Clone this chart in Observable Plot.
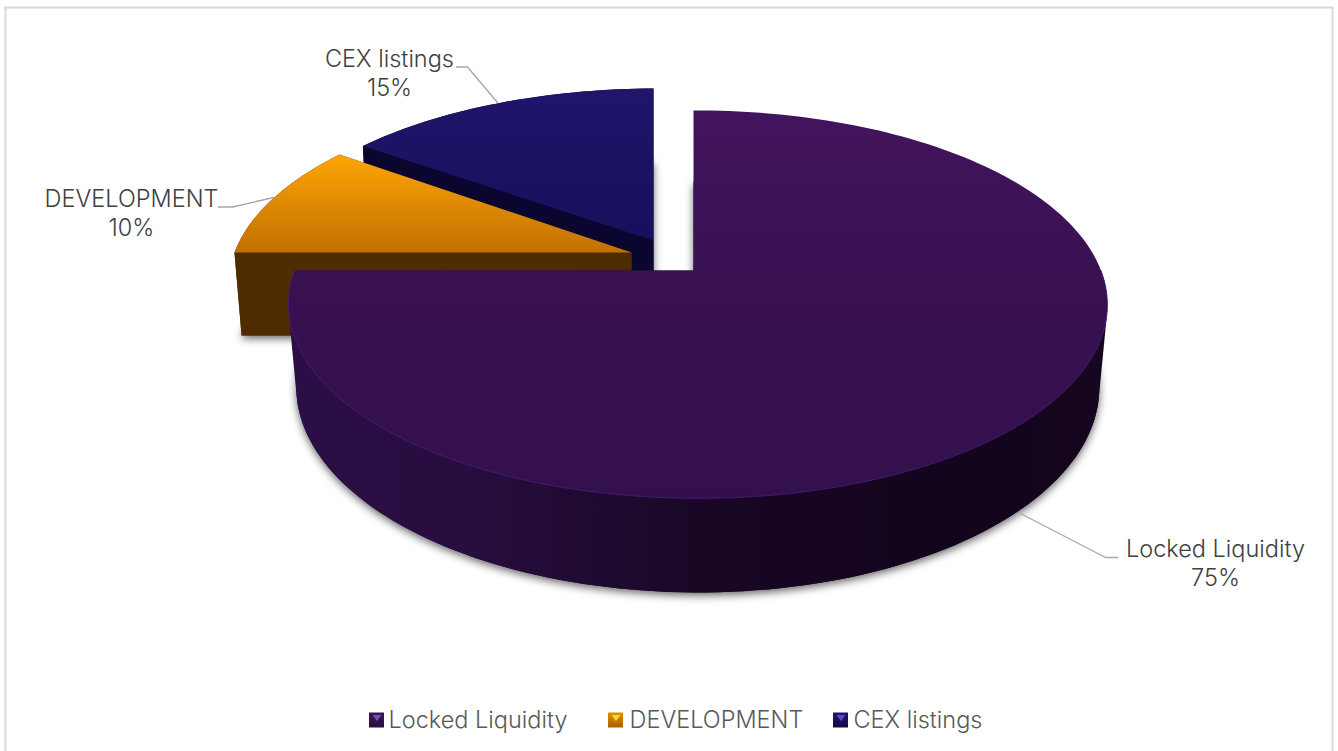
<!DOCTYPE html>
<html>
<head>
<meta charset="utf-8">
<script src="https://cdn.jsdelivr.net/npm/d3@7"></script>
<script src="https://cdn.jsdelivr.net/npm/@observablehq/plot@0.6"></script>
<style>html,body{margin:0;padding:0;background:#fff;overflow:hidden}svg{display:block}</style>
</head>
<body>
<div id="chart"></div>
<script>
// ---- data ----
const categories = ["Locked Liquidity", "DEVELOPMENT", "CEX listings"];
const shares = [75, 10, 15];

// ---- view settings (separate from the data) ----
const W = 1338, H = 751;
const topPlane = {y0: 270, A: 403.2, B: 188, k: 0.175};
const basePlane = {y0: 353, A: 396, B: 199.6, k: 0.1646};
const X0 = 693, M = -0.0105;
const explode = [
  {dx: 0, dy: 0, sx: 1, sy: 1},
  {dx: -62, dy: -18, sx: 0.995, sy: 0.985},
  {dx: -40, dy: -30, sx: 0.99, sy: 0.95}
];
const gradients = {
  top0: [["0%", "#42145e"], ["50%", "#38104f"], ["100%", "#33104d"]],
  top1: [["0%", "#ffa506"], ["100%", "#c07000"]],
  top2: [["0%", "#1f156b"], ["100%", "#18105c"]],
  wall0: [["0%", "#2b0e45"], ["20%", "#290d40"], ["38%", "#1e0a30"], ["50%", "#190725"], ["80%", "#13051e"], ["100%", "#16061f"]],
  sw0: [["0%", "#3c1458"], ["100%", "#2a0c40"]],
  sw1: [["0%", "#e89000"], ["100%", "#a86000"]],
  sw2: [["0%", "#1f156b"], ["100%", "#120a48"]]
};
const wallColors = ["url(#wall0)", "#4f2b00", "#0a0630"];
const triColors = ["#7d50a8", "#ffd24a", "#5a4cc0"];
const shadow = "drop-shadow(0px 3px 4px rgba(0,0,0,0.6))";
const leaders = [
  [[1020, 513], [1105, 557], [1117, 557]],
  [[273, 197], [232, 206.5], [218, 206.5]],
  [[497, 102], [467, 66.5], [456, 66.5]]
];
const labelAt = [[1215, 549], [131, 199], [389, 59]];
const legendSwatchX = [369, 608, 833];
const legendTextX = [388, 629, 853];
const legendY = 720;
const SW = 15;
const textColor = "#404040";
const font = "Inter, 'Open Sans', sans-serif";

// ---- geometry derived from the shares ----
const arcs = d3.pie().sort(null).value(d => d)(shares);
const deg = Math.PI / 180;
function project(plane, i, theta, r = 1) {
  const e = explode[i];
  const u = r * Math.sin(theta), v = r * Math.cos(theta);
  const w = 1 + plane.k * v + M * u;
  return {
    x: X0 + e.dx + e.sx * plane.A * u / w,
    y: plane.y0 + e.dy - e.sy * plane.B * v / w
  };
}
function arcPts(plane, i, a0, a1) {
  const n = Math.max(2, Math.ceil((a1 - a0) / (1.5 * deg)));
  return d3.range(n + 1).map(j => project(plane, i, a0 + (a1 - a0) * j / n));
}
function sector(plane, i, a0, a1) {
  return [project(plane, i, 0, 0), ...arcPts(plane, i, a0, a1)];
}
const poly = (pts, fill, extra = {}) =>
  Plot.line(pts, {x: "x", y: "y", fill, stroke: "none", curve: "linear", ...extra});
function hull(pts) {
  return d3.polygonHull(pts.map(p => [p.x, p.y])).map(([x, y]) => ({x, y}));
}

// paint order: far slice first, then the nearer ones
function sliceMarks(i) {
  const {startAngle: a0, endAngle: a1} = arcs[i];
  const out = [];
  out.push(poly(sector(basePlane, i, a0, a1), wallColors[i], {imageFilter: shadow}));
  if (i === 0) {
    const q = 90 * deg;
    out.push(poly(hull([...arcPts(topPlane, i, q, a1), ...arcPts(basePlane, i, q, a1)]), wallColors[i]));
  } else {
    // radial walls facing the viewer, running from the apex to the rim
    const wall = a => [project(topPlane, i, a, 0), project(topPlane, i, a), project(basePlane, i, a), project(basePlane, i, a, 0)];
    out.push(poly(hull(arcPts(topPlane, i, a0, a1).concat(arcPts(basePlane, i, a0, a1))), wallColors[i]));
    out.push(poly(wall(a0), wallColors[i]));
    out.push(poly(wall(a1), wallColors[i]));
  }
  out.push(poly(sector(topPlane, i, a0, a1), `url(#top${i})`));
  if (i === 0) {
    out.push(Plot.line(arcPts(topPlane, i, 90 * deg, a1), {x: "x", y: "y", stroke: "#4c2080", strokeWidth: 1, strokeOpacity: 0.7, curve: "linear"}));
  }
  return out;
}

// ---- legend and labels ----
const legendRows = categories.map((name, i) => ({name, x: legendTextX[i]}));
const labelRows = categories.flatMap((name, i) => [
  {t: name, x: labelAt[i][0], y: labelAt[i][1]},
  {t: shares[i] + "%", x: labelAt[i][0], y: labelAt[i][1] + 29}
]);
const swatchRows = categories.map((c, i) => ({i, x1: legendSwatchX[i], x2: legendSwatchX[i] + SW, y1: legendY - SW / 2, y2: legendY + SW / 2}));

const defs = () => {
  const d = d3.create("svg:defs");
  for (const [id, stops] of Object.entries(gradients)) {
    const g = d.append("linearGradient").attr("id", id);
    if (id.startsWith("wall")) g.attr("x1", 0).attr("x2", 1).attr("y1", 0).attr("y2", 0);
    else g.attr("x1", 0).attr("x2", 0).attr("y1", 0).attr("y2", 1);
    for (const [o, c] of stops) g.append("stop").attr("offset", o).attr("stop-color", c);
  }
  return d.node();
};

const chart = Plot.plot({
  width: W, height: H, margin: 0,
  style: {background: "#fff", fontFamily: font},
  x: {domain: [0, W], range: [0, W], axis: null},
  y: {domain: [0, H], range: [0, H], axis: null},
  marks: [
    defs,
    // chart frame
    Plot.ruleY([7], {x1: 4, x2: 1333, stroke: "#d9d9d9", strokeWidth: 2}),
    Plot.ruleX([5], {y1: 7, y2: H, stroke: "#d9d9d9", strokeWidth: 2}),
    Plot.ruleX([1332], {y1: 7, y2: H, stroke: "#d9d9d9", strokeWidth: 2}),
    // slices
    ...sliceMarks(2),
    ...sliceMarks(1),
    ...sliceMarks(0),
    // leader lines
    ...leaders.map(l => Plot.line(l.map(([x, y]) => ({x, y})), {x: "x", y: "y", stroke: "#a6a6a6", strokeWidth: 1.3, curve: "linear"})),
    // data labels
    Plot.text(labelRows, {x: "x", y: "y", text: "t", fontSize: 23.5, fontWeight: 300, fill: textColor, textAnchor: "middle", fontFamily: font}),
    // legend
    Plot.rect(swatchRows, {x1: "x1", x2: "x2", y1: "y1", y2: "y2", fill: d => `url(#sw${d.i})`}),
    ...swatchRows.map(s => poly([
      {x: s.x1 + 3, y: s.y1 + 2}, {x: s.x2 - 3, y: s.y1 + 2}, {x: (s.x1 + s.x2) / 2, y: s.y1 + 8}
    ], triColors[s.i])),
    Plot.text(legendRows, {x: "x", y: legendY, text: "name", fontSize: 23.5, fontWeight: 300, fill: "#595959", textAnchor: "start", fontFamily: font})
  ]
});
document.getElementById("chart").append(chart);
</script>
</body>
</html>
